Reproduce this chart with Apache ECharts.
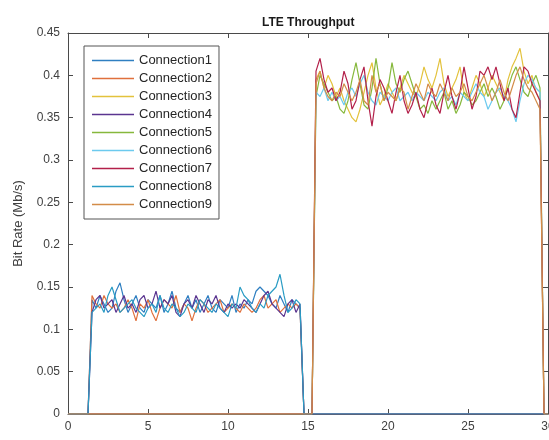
<!DOCTYPE html>
<html>
<head>
<meta charset="utf-8">
<script src="https://cdn.jsdelivr.net/npm/echarts@6/dist/echarts.min.js"></script>
<style>html,body{margin:0;padding:0;background:#fff}#c{width:549px;height:440px}</style>
</head>
<body>
<div id="c"></div>
<script>
const title = 'LTE Throughput';
const yName = 'Bit Rate (Mb/s)';
const seriesNames = ['Connection1','Connection2','Connection3','Connection4','Connection5','Connection6','Connection7','Connection8','Connection9'];
const colors = ['#2f7fc1','#e0703c','#e3c23c','#5b3590','#86b83c','#6ccaee','#b3204a','#2a9cc4','#d38c48'];

const time = [
0,0.25,0.5,0.75,1,1.25,1.5,1.75,2,2.25,
2.5,2.75,3,3.25,3.5,3.75,4,4.25,4.5,4.75,
5,5.25,5.5,5.75,6,6.25,6.5,6.75,7,7.25,
7.5,7.75,8,8.25,8.5,8.75,9,9.25,9.5,9.75,
10,10.25,10.5,10.75,11,11.25,11.5,11.75,12,12.25,
12.5,12.75,13,13.25,13.5,13.75,14,14.25,14.5,14.75,
15,15.25,15.5,15.75,16,16.25,16.5,16.75,17,17.25,
17.5,17.75,18,18.25,18.5,18.75,19,19.25,19.5,19.75,
20,20.25,20.5,20.75,21,21.25,21.5,21.75,22,22.25,
22.5,22.75,23,23.25,23.5,23.75,24,24.25,24.5,24.75,
25,25.25,25.5,25.75,26,26.25,26.5,26.75,27,27.25,
27.5,27.75,28,28.25,28.5,28.75,29,29.25,29.5,29.75,
30];

const conn1 = [0,0,0,0,0,0,
0.135,0.125,0.14,0.13,0.12,0.125,0.145,0.155,0.135,0.12,
0.13,0.14,0.125,0.12,0.135,0.13,0.125,0.14,0.12,0.13,
0.145,0.125,0.12,0.13,0.14,0.125,0.135,0.12,0.13,0.14,
0.125,0.12,0.135,0.13,0.125,0.14,0.12,0.13,0.125,0.135,
0.13,0.145,0.15,0.145,0.14,0.13,0.125,0.14,0.13,0.12,
0.135,0.13,0.125,
0,0,0,0,0,0,0,0,0,0,0,0,0,0,0,0,0,0,0,0,0,0,0,0,0,0,0,0,0,0,
0,0,0,0,0,0,0,0,0,0,0,0,0,0,0,0,0,0,0,0,0,0,0,0,0,0,0,0,0,0,0,0];

const conn2 = [0,0,0,0,0,0,
0.14,0.13,0.125,0.14,0.13,0.125,0.13,0.12,0.125,0.135,
0.125,0.11,0.13,0.125,0.135,0.12,0.11,0.125,0.135,0.13,
0.125,0.14,0.12,0.13,0.125,0.11,0.125,0.135,0.13,0.12,
0.125,0.13,0.135,0.12,0.125,0.13,0.125,0.12,0.13,0.125,
0.12,0.125,0.135,0.14,0.125,0.13,0.135,0.12,0.125,0.13,
0.125,0.13,0.125,
0,0,0,0,0,0,0,0,0,0,0,0,0,0,0,0,0,0,0,0,0,0,0,0,0,0,0,0,0,0,
0,0,0,0,0,0,0,0,0,0,0,0,0,0,0,0,0,0,0,0,0,0,0,0,0,0,0,0,0,0,0,0];

const conn3 = [
0,0,0,0,0,0,0,0,0,0,0,0,0,0,0,0,0,0,0,0,0,0,0,0,0,0,0,0,0,0,
0,0,0,0,0,0,0,0,0,0,0,0,0,0,0,0,0,0,0,0,0,0,0,0,0,0,0,0,0,0,0,0,
0.395,0.405,0.385,0.4,0.39,0.375,0.385,0.37,0.36,0.35,
0.345,0.36,0.38,0.4,0.415,0.385,0.365,0.375,0.39,0.38,
0.37,0.385,0.4,0.39,0.38,0.375,0.39,0.41,0.395,0.385,
0.4,0.42,0.39,0.375,0.385,0.395,0.41,0.38,0.37,0.385,
0.4,0.39,0.375,0.385,0.4,0.39,0.38,0.37,0.395,0.41,
0.42,0.432,0.405,0.39,0.4,0.38,0.37,
0,0];

const conn4 = [0,0,0,0,0,0,
0.12,0.135,0.14,0.125,0.13,0.135,0.12,0.13,0.14,0.125,
0.13,0.12,0.135,0.14,0.125,0.13,0.145,0.125,0.135,0.13,
0.14,0.12,0.115,0.13,0.135,0.125,0.14,0.13,0.12,0.135,
0.13,0.14,0.125,0.12,0.13,0.125,0.13,0.125,0.135,0.13,
0.125,0.12,0.13,0.14,0.145,0.13,0.125,0.12,0.115,0.13,
0.135,0.12,0.13,
0,0,0,0,0,0,0,0,0,0,0,0,0,0,0,0,0,0,0,0,0,0,0,0,0,0,0,0,0,0,
0,0,0,0,0,0,0,0,0,0,0,0,0,0,0,0,0,0,0,0,0,0,0,0,0,0,0,0,0,0,0,0];

const conn5 = [
0,0,0,0,0,0,0,0,0,0,0,0,0,0,0,0,0,0,0,0,0,0,0,0,0,0,0,0,0,0,
0,0,0,0,0,0,0,0,0,0,0,0,0,0,0,0,0,0,0,0,0,0,0,0,0,0,0,0,0,0,0,0,
0.375,0.4,0.39,0.38,0.37,0.375,0.36,0.355,0.37,0.395,
0.415,0.39,0.365,0.36,0.385,0.42,0.39,0.37,0.385,0.415,
0.39,0.38,0.395,0.405,0.39,0.375,0.36,0.365,0.355,0.37,
0.36,0.37,0.38,0.36,0.37,0.355,0.365,0.38,0.375,0.365,
0.37,0.38,0.39,0.375,0.385,0.375,0.36,0.37,0.385,0.4,
0.41,0.395,0.38,0.375,0.39,0.4,0.385,
0,0];

const conn6 = [
0,0,0,0,0,0,0,0,0,0,0,0,0,0,0,0,0,0,0,0,0,0,0,0,0,0,0,0,0,0,
0,0,0,0,0,0,0,0,0,0,0,0,0,0,0,0,0,0,0,0,0,0,0,0,0,0,0,0,0,0,0,0,
0.38,0.375,0.385,0.37,0.38,0.37,0.375,0.365,0.38,0.385,
0.375,0.39,0.4,0.38,0.37,0.365,0.38,0.375,0.37,0.38,
0.385,0.37,0.375,0.38,0.37,0.38,0.375,0.37,0.38,0.375,
0.37,0.38,0.385,0.37,0.375,0.365,0.38,0.375,0.37,0.38,
0.39,0.38,0.375,0.36,0.37,0.38,0.385,0.375,0.37,0.36,
0.345,0.37,0.39,0.4,0.395,0.385,0.38,
0,0];

const conn7 = [
0,0,0,0,0,0,0,0,0,0,0,0,0,0,0,0,0,0,0,0,0,0,0,0,0,0,0,0,0,0,
0,0,0,0,0,0,0,0,0,0,0,0,0,0,0,0,0,0,0,0,0,0,0,0,0,0,0,0,0,0,0,0,
0.405,0.42,0.395,0.38,0.385,0.37,0.38,0.405,0.39,0.36,
0.37,0.395,0.41,0.37,0.34,0.375,0.395,0.385,0.37,0.355,
0.38,0.4,0.37,0.355,0.365,0.38,0.36,0.35,0.37,0.385,
0.365,0.355,0.38,0.4,0.375,0.36,0.38,0.41,0.385,0.36,
0.375,0.405,0.4,0.41,0.395,0.41,0.39,0.37,0.385,0.36,
0.35,0.38,0.41,0.405,0.39,0.38,0.37,
0,0];

const conn8 = [0,0,0,0,0,0,
0.12,0.125,0.13,0.12,0.14,0.15,0.135,0.12,0.125,0.13,
0.135,0.125,0.12,0.115,0.125,0.13,0.12,0.14,0.125,0.12,
0.13,0.125,0.115,0.12,0.13,0.125,0.12,0.135,0.13,0.125,
0.12,0.13,0.125,0.12,0.115,0.13,0.125,0.15,0.14,0.135,
0.125,0.12,0.13,0.125,0.14,0.145,0.15,0.165,0.14,0.12,
0.125,0.135,0.13,
0,0,0,0,0,0,0,0,0,0,0,0,0,0,0,0,0,0,0,0,0,0,0,0,0,0,0,0,0,0,
0,0,0,0,0,0,0,0,0,0,0,0,0,0,0,0,0,0,0,0,0,0,0,0,0,0,0,0,0,0,0,0];

const conn9 = [
0,0,0,0,0,0,0,0,0,0,0,0,0,0,0,0,0,0,0,0,0,0,0,0,0,0,0,0,0,0,
0,0,0,0,0,0,0,0,0,0,0,0,0,0,0,0,0,0,0,0,0,0,0,0,0,0,0,0,0,0,0,0,
0.39,0.405,0.385,0.375,0.37,0.38,0.375,0.39,0.38,0.37,
0.38,0.395,0.37,0.365,0.4,0.38,0.39,0.37,0.38,0.375,
0.37,0.385,0.38,0.36,0.375,0.39,0.38,0.37,0.39,0.38,
0.375,0.39,0.38,0.37,0.385,0.375,0.38,0.39,0.375,0.37,
0.38,0.39,0.4,0.385,0.37,0.38,0.395,0.38,0.37,0.385,
0.4,0.41,0.395,0.385,0.38,0.37,0.36,
0,0];

const xTicks = [0,5,10,15,20,25,30];
const yTicks = [0,0.05,0.1,0.15,0.2,0.25,0.3,0.35,0.4,0.45];

const allSeries = [conn1,conn2,conn3,conn4,conn5,conn6,conn7,conn8,conn9];
allSeries.forEach((s,i)=>{ if (s.length !== time.length) console.error('len mismatch', i, s.length); });

const chart = echarts.init(document.getElementById('c'), null, {renderer:'canvas'});
const axisCol = '#4a4a4a';
const labelCol = '#404040';
const font = 'Liberation Sans, Arial, sans-serif';

const tickStyle = {inside: true, length: 5, lineStyle: {color: axisCol}};

chart.setOption({
  animation: false,
  backgroundColor: '#fff',
  title: {
    text: title, left: 257, top: 12,
    textStyle: {fontFamily: font, fontSize: 12, fontWeight: 'bold', color: '#1a1a1a'}
  },
  legend: {
    orient: 'vertical', left: 84, top: 46,
    data: seriesNames,
    icon: 'rect', itemWidth: 42, itemHeight: 1.5, itemGap: 5,
    padding: [8, 7, 8, 8],
    backgroundColor: '#fff', borderColor: '#555', borderWidth: 1,
    textStyle: {fontFamily: font, fontSize: 13, color: '#262626'}
  },
  grid: {left: 68, right: 1, top: 33, bottom: 26, containLabel: false, outerBoundsMode: 'none'},
  xAxis: [{
    type: 'value', min: xTicks[0], max: xTicks[xTicks.length-1], interval: 5,
    axisLine: {onZero: false, lineStyle: {color: axisCol, width: 1}},
    axisTick: tickStyle,
    axisLabel: {color: labelCol, fontFamily: font, fontSize: 12, margin: 7},
    splitLine: {show: false}
  },{
    type: 'value', position: 'top', min: 0, max: 30, interval: 5,
    axisLine: {show: true, onZero: false, lineStyle: {color: axisCol, width: 1}},
    axisTick: tickStyle,
    axisLabel: {show: false}, splitLine: {show: false}
  }],
  yAxis: [{
    type: 'value', min: yTicks[0], max: yTicks[yTicks.length-1], interval: 0.05,
    name: yName, nameLocation: 'middle', nameGap: 43,
    nameTextStyle: {fontFamily: font, fontSize: 13, color: labelCol},
    axisLine: {show: true, onZero: false, lineStyle: {color: axisCol, width: 1}},
    axisTick: tickStyle,
    axisLabel: {color: labelCol, fontFamily: font, fontSize: 12, margin: 8},
    splitLine: {show: false}
  },{
    type: 'value', position: 'right', min: 0, max: 0.45, interval: 0.05,
    axisLine: {show: true, onZero: false, lineStyle: {color: axisCol, width: 1}},
    axisTick: tickStyle,
    axisLabel: {show: false}, splitLine: {show: false}
  }],
  series: allSeries.map((s,i)=>({
    name: seriesNames[i], type: 'line', xAxisIndex: 0, yAxisIndex: 0,
    data: time.map((t,j)=>[t, s[j]]),
    symbol: 'none', smooth: false,
    lineStyle: {width: 1.2, color: colors[i]},
    itemStyle: {color: colors[i]},
    z: 2 + i
  }))
});
</script>
</body>
</html>
